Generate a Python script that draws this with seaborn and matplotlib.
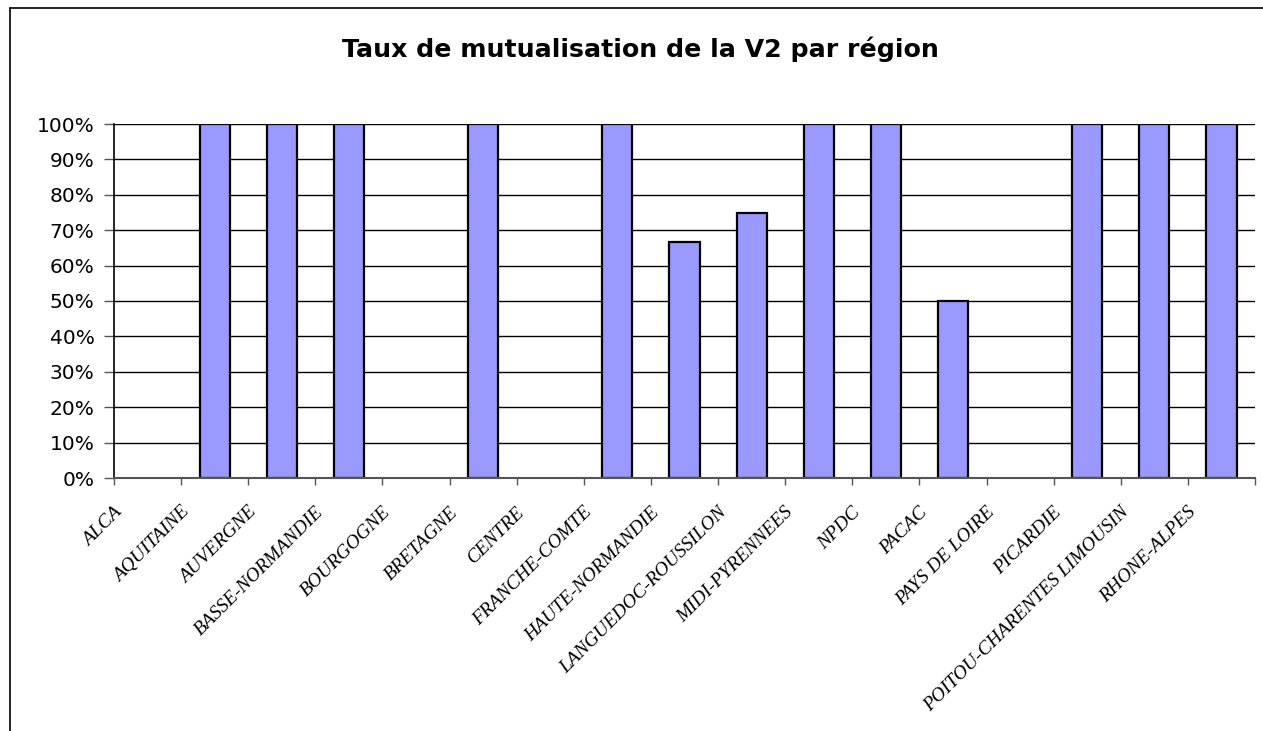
import matplotlib
matplotlib.use("Agg")
import matplotlib.pyplot as plt
import matplotlib.transforms as mtransforms
from matplotlib.lines import Line2D
from matplotlib.ticker import PercentFormatter, FixedLocator
import seaborn as sns
import pandas as pd

# Donnees
regions = ["ALCA", "AQUITAINE", "AUVERGNE", "BASSE-NORMANDIE", "BOURGOGNE",
           "BRETAGNE", "CENTRE", "FRANCHE-COMTE", "HAUTE-NORMANDIE",
           "LANGUEDOC-ROUSSILON", "MIDI-PYRENNEES", "NPDC", "PACAC",
           "PAYS DE LOIRE", "PICARDIE", "POITOU-CHARENTES LIMOUSIN",
           "RHONE-ALPES"]
taux = [0, 1, 1, 1, 0, 1, 0, 1, 0.667, 0.75, 1, 1, 0.5, 0, 1, 1, 1]
titre = "Taux de mutualisation de la V2 par région"

df = pd.DataFrame({"region": regions, "taux": taux})

sns.set_style("white")
plt.rcParams["text.color"] = "black"
plt.rcParams["xtick.color"] = "black"
plt.rcParams["ytick.color"] = "black"

fig = plt.figure(figsize=(12.63, 7.31), dpi=100)
ax = fig.add_axes([114 / 1263, 1 - 478 / 731, 1141 / 1263, (478 - 124) / 731])

sns.barplot(data=df, x="region", y="taux", color="#9999FF", saturation=1,
            width=0.45, edgecolor="black", linewidth=1.6, ax=ax)

# barres a zero: pas de contour
for p in ax.patches:
    if p.get_height() == 0:
        p.set_linewidth(0)

ax.set_xlim(-0.5, len(regions) - 0.5)
ax.set_ylim(0, 1)
ax.set_xlabel("")
ax.set_ylabel("")

# grille horizontale
ax.set_axisbelow(True)
ax.yaxis.grid(True, color="black", linewidth=1)
ax.yaxis.set_major_locator(FixedLocator([i / 10 for i in range(11)]))
ax.yaxis.set_major_formatter(PercentFormatter(1.0, decimals=0))

# axes
for s in ["top", "right"]:
    ax.spines[s].set_visible(False)
ax.spines["left"].set_color("black")
ax.spines["left"].set_linewidth(1.2)
ax.spines["bottom"].set_color("#555555")
ax.spines["bottom"].set_linewidth(1.5)

ax.tick_params(axis="y", direction="out", length=7, width=1, color="#555555",
               labelcolor="black", left=True, labelsize=14.5, pad=7)
for lab in ax.get_yticklabels():
    lab.set_family("DejaVu Sans")

# graduations x entre les categories
ax.xaxis.set_minor_locator(FixedLocator([i - 0.5 for i in range(len(regions) + 1)]))
ax.tick_params(axis="x", which="minor", direction="out", length=5, width=1,
               color="#555555", bottom=True)
ax.tick_params(axis="x", which="major", length=0, bottom=True, labelcolor="black")

ax.set_xticks(range(len(regions)))
ax.set_xticklabels(regions, rotation=45, ha="right", va="center",
                   rotation_mode="anchor", fontsize=14,
                   family="Liberation Serif", style="italic")
offset = mtransforms.ScaledTranslation(-28 / 100, -27 / 100, fig.dpi_scale_trans)
for lab in ax.get_xticklabels():
    lab.set_transform(lab.get_transform() + offset)

# Titre
fig.text(0.507, 1 - 49 / 731, titre, ha="center", va="center",
         fontsize=18.2, fontweight="bold", family="DejaVu Sans")

# cadre du graphique
fig.add_artist(Line2D([9.5 / 1263, 9.5 / 1263], [0, 1 - 8 / 731],
                      transform=fig.transFigure, color="black", linewidth=1.2))
fig.add_artist(Line2D([9.5 / 1263, 1], [1 - 8 / 731, 1 - 8 / 731],
                      transform=fig.transFigure, color="black", linewidth=1.2))

plt.savefig("out.png", dpi=100)
